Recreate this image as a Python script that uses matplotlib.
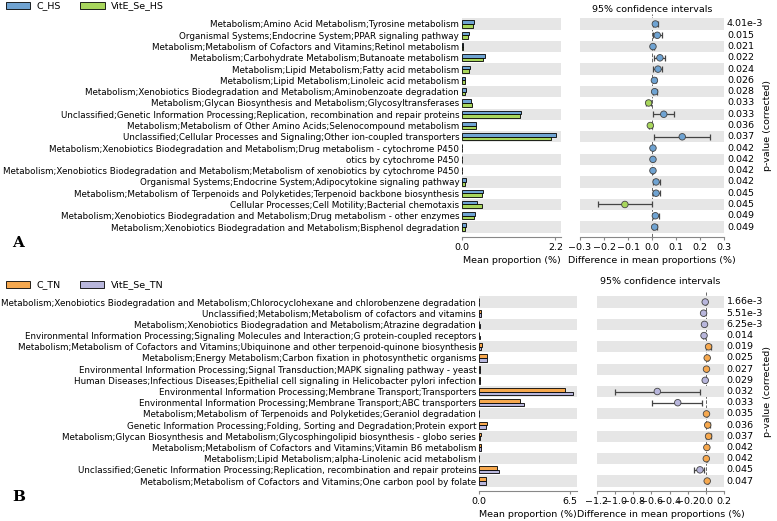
import matplotlib.pyplot as plt
import matplotlib.patches as mpatches
import numpy as np

# ---- panel A data ----
labels_A = [
    "Metabolism;Amino Acid Metabolism;Tyrosine metabolism",
    "Organismal Systems;Endocrine System;PPAR signaling pathway",
    "Metabolism;Metabolism of Cofactors and Vitamins;Retinol metabolism",
    "Metabolism;Carbohydrate Metabolism;Butanoate metabolism",
    "Metabolism;Lipid Metabolism;Fatty acid metabolism",
    "Metabolism;Lipid Metabolism;Linoleic acid metabolism",
    "Metabolism;Xenobiotics Biodegradation and Metabolism;Aminobenzoate degradation",
    "Metabolism;Glycan Biosynthesis and Metabolism;Glycosyltransferases",
    "Unclassified;Genetic Information Processing;Replication, recombination and repair proteins",
    "Metabolism;Metabolism of Other Amino Acids;Selenocompound metabolism",
    "Unclassified;Cellular Processes and Signaling;Other ion-coupled transporters",
    "Metabolism;Xenobiotics Biodegradation and Metabolism;Drug metabolism - cytochrome P450",
    "otics by cytochrome P450",
    "Metabolism;Xenobiotics Biodegradation and Metabolism;Metabolism of xenobiotics by cytochrome P450",
    "Organismal Systems;Endocrine System;Adipocytokine signaling pathway",
    "Metabolism;Metabolism of Terpenoids and Polyketides;Terpenoid backbone biosynthesis",
    "Cellular Processes;Cell Motility;Bacterial chemotaxis",
    "Metabolism;Xenobiotics Biodegradation and Metabolism;Drug metabolism - other enzymes",
    "Metabolism;Xenobiotics Biodegradation and Metabolism;Bisphenol degradation",
]
c_hs = [0.28, 0.16, 0.02, 0.53, 0.20, 0.08, 0.09, 0.21, 1.40, 0.33, 2.22,
        0.01, 0.01, 0.01, 0.09, 0.50, 0.36, 0.30, 0.09]
vite_hs = [0.26, 0.13, 0.02, 0.50, 0.17, 0.06, 0.08, 0.23, 1.36, 0.34, 2.09,
           0.01, 0.01, 0.01, 0.07, 0.48, 0.48, 0.28, 0.07]
diff_A = [0.014, 0.022, 0.004, 0.033, 0.025, 0.010, 0.011, -0.014, 0.049, -0.007,
          0.126, 0.004, 0.004, 0.004, 0.017, 0.017, -0.113, 0.014, 0.011]
lo_A = [0.006, 0.003, 0.001, 0.007, 0.004, 0.003, 0.003, -0.025, 0.003, -0.012,
        0.008, 0.002, 0.002, 0.002, 0.003, 0.003, -0.224, 0.004, 0.003]
hi_A = [0.025, 0.040, 0.007, 0.054, 0.043, 0.017, 0.019, -0.003, 0.090, -0.002,
        0.240, 0.006, 0.006, 0.006, 0.035, 0.035, -0.001, 0.029, 0.019]
p_A = ["4.01e-3", "0.015", "0.021", "0.022", "0.024", "0.026", "0.028", "0.033",
       "0.033", "0.036", "0.037", "0.042", "0.042", "0.042", "0.042", "0.045",
       "0.045", "0.049", "0.049"]

# ---- panel B data ----
labels_B = [
    "Metabolism;Xenobiotics Biodegradation and Metabolism;Chlorocyclohexane and chlorobenzene degradation",
    "Unclassified;Metabolism;Metabolism of cofactors and vitamins",
    "Metabolism;Xenobiotics Biodegradation and Metabolism;Atrazine degradation",
    "Environmental Information Processing;Signaling Molecules and Interaction;G protein-coupled receptors",
    "Metabolism;Metabolism of Cofactors and Vitamins;Ubiquinone and other terpenoid-quinone biosynthesis",
    "Metabolism;Energy Metabolism;Carbon fixation in photosynthetic organisms",
    "Environmental Information Processing;Signal Transduction;MAPK signaling pathway - yeast",
    "Human Diseases;Infectious Diseases;Epithelial cell signaling in Helicobacter pylori infection",
    "Environmental Information Processing;Membrane Transport;Transporters",
    "Environmental Information Processing;Membrane Transport;ABC transporters",
    "Metabolism;Metabolism of Terpenoids and Polyketides;Geraniol degradation",
    "Genetic Information Processing;Folding, Sorting and Degradation;Protein export",
    "Metabolism;Glycan Biosynthesis and Metabolism;Glycosphingolipid biosynthesis - globo series",
    "Metabolism;Metabolism of Cofactors and Vitamins;Vitamin B6 metabolism",
    "Metabolism;Lipid Metabolism;alpha-Linolenic acid metabolism",
    "Unclassified;Genetic Information Processing;Replication, recombination and repair proteins",
    "Metabolism;Metabolism of Cofactors and Vitamins;One carbon pool by folate",
]
c_tn = [0.02, 0.14, 0.03, 0.03, 0.20, 0.60, 0.06, 0.04, 6.14, 2.93, 0.03,
        0.55, 0.12, 0.14, 0.03, 1.31, 0.52]
vite_tn = [0.03, 0.17, 0.04, 0.05, 0.17, 0.55, 0.05, 0.05, 6.69, 3.24, 0.02,
           0.53, 0.09, 0.13, 0.03, 1.40, 0.52]
diff_B = [-0.007, -0.025, -0.015, -0.020, 0.030, 0.015, 0.007, -0.007, -0.535,
          -0.31, 0.007, 0.020, 0.030, 0.011, 0.005, -0.065, 0.015]
lo_B = [-0.010, -0.035, -0.022, -0.028, 0.007, 0.008, 0.002, -0.012, -1.00,
        -0.59, 0.002, 0.000, 0.002, 0.004, 0.001, -0.135, 0.008]
hi_B = [-0.003, -0.015, -0.008, -0.012, 0.058, 0.022, 0.012, -0.002, -0.06,
        -0.04, 0.012, 0.045, 0.058, 0.018, 0.009, -0.015, 0.022]
p_B = ["1.66e-3", "5.51e-3", "6.25e-3", "0.014", "0.019", "0.025", "0.027",
       "0.029", "0.032", "0.033", "0.035", "0.036", "0.037", "0.042", "0.042",
       "0.045", "0.047"]

W, H = 777, 521
FS = 6.3
band = "#e6e6e6"

fig = plt.figure(figsize=(W / 100, H / 100), dpi=100)


def box(x0, x1, ytop, ybot):
    return [x0 / W, 1 - ybot / H, (x1 - x0) / W, (ybot - ytop) / H]


def panel(labels, g1, g2, diff, lo, hi, pv, names, cols, c0, sp,
          bx, cx, bxlim, bticks, cxlim, cticks, letter, tpad, legy):
    n = len(labels)
    ytop = c0 - 0.9 * sp
    ybot = c0 + (n - 0.1) * sp
    y = np.arange(n)

    # mean proportion bars
    ax = fig.add_axes(box(bx[0], bx[1], ytop, ybot))
    for i in range(0, n, 2):
        ax.axhspan(i - 0.5, i + 0.5, color=band, lw=0, zorder=0)
    ax.barh(y - 0.16, g1, height=0.32, color=cols[0], edgecolor="black", lw=0.6, zorder=2)
    ax.barh(y + 0.16, g2, height=0.32, color=cols[1], edgecolor="black", lw=0.6, zorder=2)
    ax.set_ylim(n - 0.1, -0.9)
    ax.set_xlim(*bxlim)
    ax.set_xticks(bticks)
    ax.set_xticklabels(["%.1f" % t for t in bticks])
    ax.set_yticks(y)
    ax.set_yticklabels(labels, fontsize=FS)
    ax.tick_params(axis="y", length=0, pad=2)
    ax.tick_params(axis="x", labelsize=FS + 0.5, length=2.5, pad=1.5, color="#888888")
    for s in ["top", "right", "left"]:
        ax.spines[s].set_visible(False)
    ax.spines["bottom"].set_color("#888888")
    ax.set_xlabel("Mean proportion (%)", fontsize=FS + 0.5, labelpad=3)

    # difference with confidence intervals
    ax2 = fig.add_axes(box(cx[0], cx[1], ytop, ybot))
    ax2.axvline(0, ls="--", color="#666666", lw=0.7, zorder=0)
    for i in range(0, n, 2):
        ax2.axhspan(i - 0.5, i + 0.5, color=band, lw=0, zorder=1)
    d = np.array(diff)
    err = [d - np.array(lo), np.array(hi) - d]
    ax2.errorbar(d, y, xerr=err, fmt="none", ecolor="#444444", elinewidth=0.9,
                 capsize=2.5, capthick=0.9, zorder=3)
    pc = [cols[0] if v >= 0 else cols[1] for v in diff]
    ax2.scatter(d, y, s=22, c=pc, edgecolors="#444444", linewidths=0.6, zorder=4)
    ax2.set_ylim(n - 0.1, -0.9)
    ax2.set_xlim(*cxlim)
    ax2.set_xticks(cticks)
    ax2.set_yticks([])
    ax2.tick_params(axis="x", labelsize=FS + 0.5, length=2.5, pad=1.5, color="#888888")
    for s in ["top", "right", "left"]:
        ax2.spines[s].set_visible(False)
    ax2.spines["bottom"].set_color("#888888")
    ax2.set_xlabel("Difference in mean proportions (%)", fontsize=FS + 0.5, labelpad=3)
    ax2.set_title("95% confidence intervals", fontsize=FS + 0.5, pad=tpad)

    for i, p in enumerate(pv):
        ax2.text(1.02, i, p, transform=ax2.get_yaxis_transform(),
                 fontsize=FS + 0.5, va="center", ha="left")
    fig.text(768 / W, 1 - (ytop + ybot) / 2 / H, "p-value (corrected)",
             rotation=90, fontsize=FS + 0.5, ha="center", va="center")

    fig.text(12 / W, 1 - (ybot + 6) / H, letter, fontsize=11, fontweight="bold",
             family="DejaVu Serif", ha="left", va="center")

    handles = [mpatches.Patch(facecolor=cols[0], edgecolor="black", lw=0.6, label=names[0]),
               mpatches.Patch(facecolor=cols[1], edgecolor="black", lw=0.6, label=names[1])]
    fig.legend(handles=handles, loc="center left",
               bbox_to_anchor=(0.0, 1 - legy / H), ncol=2, frameon=False,
               fontsize=FS + 0.5, handlelength=2.6, handleheight=0.8,
               columnspacing=2.0, handletextpad=0.7, borderaxespad=0.2)


panel(labels_A, c_hs, vite_hs, diff_A, lo_A, hi_A, p_A,
      ["C_HS", "VitE_Se_HS"], ["#6fa3d2", "#a8d65c"], 24, 11.28,
      (462, 561), (580, 724), (0, 2.33), [0.0, 2.2], (-0.3, 0.3),
      [-0.3, -0.2, -0.1, 0.0, 0.1, 0.2, 0.3], "A", 1, 6)

panel(labels_B, c_tn, vite_tn, diff_B, lo_B, hi_B, p_B,
      ["C_TN", "VitE_Se_TN"], ["#f6a84e", "#b8b6dc"], 302, 11.19,
      (479, 577), (597, 724), (0, 7.0), [0.0, 6.5], (-1.2, 0.2),
      [-1.2, -1.0, -0.8, -0.6, -0.4, -0.2, 0.0, 0.2], "B", 6, 285)

fig.savefig("out.png", dpi=100)
